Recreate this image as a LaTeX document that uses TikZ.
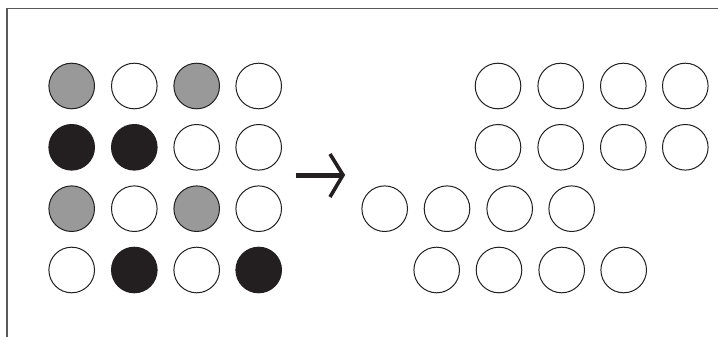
\documentclass[tikz,border=0pt]{standalone}
\usepackage{tikz}
\definecolor{dotgray}{HTML}{999999}
\definecolor{dotblack}{HTML}{231F20}
\definecolor{framegray}{HTML}{5A5A5A}
\tikzset{
  dot/.style={circle, draw=dotblack, line width=1pt, minimum size=45.6pt, inner sep=0pt},
  wdot/.style={dot, fill=white},
  gdot/.style={dot, fill=dotgray},
  bdot/.style={dot, fill=dotblack},
  framestyle/.style={draw=framegray, line width=1.3pt},
  arrowshaft/.style={draw=dotblack, line width=5pt},
  arrowhead/.style={draw=dotblack, line width=3.6pt, line join=miter}
}
\begin{document}
\begin{tikzpicture}[x=1pt,y=-1pt]
\useasboundingbox (0,0) rectangle (718,337);
\draw[framestyle] (7,337) -- (7,8.5) -- (718,8.5);
% left grid
\node[gdot] (l11) at (71.7,86) {};
\node[wdot] (l12) at (134.3,86) {};
\node[gdot] (l13) at (196.7,86) {};
\node[wdot] (l14) at (258.7,86) {};
\node[bdot] (l21) at (71.7,147.3) {};
\node[bdot] (l22) at (134.3,147.3) {};
\node[wdot] (l23) at (196.7,147.3) {};
\node[wdot] (l24) at (258.7,147.3) {};
\node[gdot] (l31) at (71.7,208.7) {};
\node[wdot] (l32) at (134.3,208.7) {};
\node[gdot] (l33) at (196.7,208.7) {};
\node[wdot] (l34) at (258.7,208.7) {};
\node[wdot] (l41) at (71.7,270) {};
\node[bdot] (l42) at (134.3,270) {};
\node[wdot] (l43) at (196.7,270) {};
\node[bdot] (l44) at (258.7,270) {};
% right arrangement
\node[wdot] (r11) at (498,86) {};
\node[wdot] (r12) at (560.7,86) {};
\node[wdot] (r13) at (623.3,86) {};
\node[wdot] (r14) at (685.3,86) {};
\node[wdot] (r21) at (498,147.3) {};
\node[wdot] (r22) at (560.7,147.3) {};
\node[wdot] (r23) at (623.3,147.3) {};
\node[wdot] (r24) at (685.3,147.3) {};
\node[wdot] (r31) at (384.7,208.7) {};
\node[wdot] (r32) at (447,208.7) {};
\node[wdot] (r33) at (509.7,208.7) {};
\node[wdot] (r34) at (571.7,208.7) {};
\node[wdot] (r41) at (436.7,270) {};
\node[wdot] (r42) at (499,270) {};
\node[wdot] (r43) at (561.7,270) {};
\node[wdot] (r44) at (623.7,270) {};
% arrow
\coordinate (as) at (296,175);
\coordinate (ae) at (341,175);
\coordinate (tip) at (343,175);
\coordinate (hu) at (330,154);
\coordinate (hd) at (330,197);
\draw[arrowshaft] (as) -- (ae);
\draw[arrowhead] (hu) -- (tip) -- (hd);
\end{tikzpicture}
\end{document}
